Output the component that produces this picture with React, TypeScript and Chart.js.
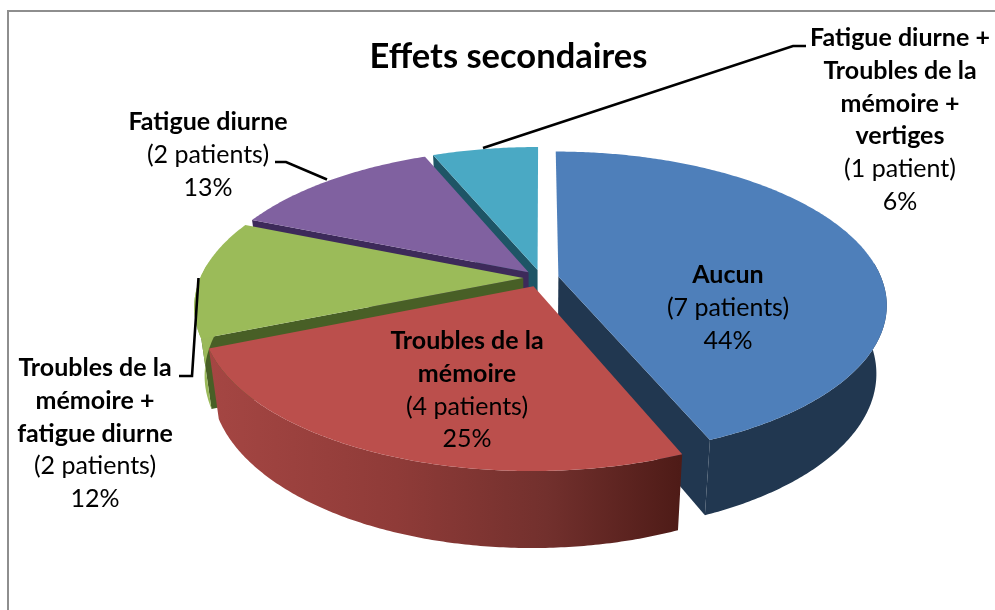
import React, { useEffect, useRef } from "react";
import { Chart, registerables } from "chart.js";

Chart.register(...registerables);

const categories = [
  "Aucun",
  "Troubles de la mémoire",
  "Troubles de la mémoire + fatigue diurne",
  "Fatigue diurne",
  "Fatigue diurne + Troubles de la mémoire + vertiges",
];
const patients = [7, 4, 2, 2, 1];
const percentLabels = ["44%", "25%", "12%", "13%", "6%"];
const titleLines = [
  ["Aucun"],
  ["Troubles de la", "mémoire"],
  ["Troubles de la", "mémoire +", "fatigue diurne"],
  ["Fatigue diurne"],
  ["Fatigue diurne +", "Troubles de la", "mémoire +", "vertiges"],
];
const topColors = ["#4e7fba", "#bb4f4c", "#9bbb59", "#8061a0", "#4aa9c4"];
const cutColors = ["#213750", "#581c17", "#485f26", "#3d2a5a", "#1e5566"];
const wallColors = ["#213750", "", "#9ab95a", "#3d2a5a", "#1e5566"];

const VIEW = { cx: 541, cy: 278, a: 323, b: 148, p: 0.181, depth: 69, shrink: 0.97 };
const DRAW_ORDER = [4, 3, 2, 0, 1];
const LABEL_POS = [
  { x: 728, y: 275 },
  { x: 467, y: 341 },
  { x: 95, y: 368 },
  { x: 208, y: 122 },
  { x: 900, y: 38 },
];
const LINE_H = 32.8;
const LEADERS = [
  [[275, 162], [286, 162], [327, 179.5]],
  [[483, 148], [793, 46], [806, 46]],
  [[198.5, 278], [192, 376], [179, 376]],
];

function project(u: number, v: number, bottom: boolean): [number, number] {
  const s = 1 / (1 - VIEW.p * v);
  const x = VIEW.a * u * s;
  const y = VIEW.b * v * s;
  if (!bottom) return [VIEW.cx + x, VIEW.cy + y];
  const k = VIEW.shrink;
  return [VIEW.cx + x * k, VIEW.cy + y * k + VIEW.depth * s * k];
}

function rimAngles(start: number, end: number) {
  const ts: number[] = [];
  const n = Math.max(8, Math.ceil((end - start) / 0.01));
  for (let i = 0; i <= n; i++) ts.push(start + ((end - start) * i) / n);
  return ts;
}

function poly(ctx: CanvasRenderingContext2D, pts: [number, number][], fill: any) {
  ctx.beginPath();
  pts.forEach((p, i) => (i ? ctx.lineTo(p[0], p[1]) : ctx.moveTo(p[0], p[1])));
  ctx.closePath();
  ctx.fillStyle = fill;
  ctx.fill();
}

const pie3d = {
  id: "pie3d",
  beforeDraw(chart: any) {
    const ctx = chart.ctx;
    ctx.save();
    ctx.strokeStyle = "#8e8e8e";
    ctx.lineWidth = 2;
    ctx.strokeRect(8, 11, 1200, 1200);
    ctx.restore();
  },
  beforeDatasetDraw(chart: any) {
    const ctx: CanvasRenderingContext2D = chart.ctx;
    const arcs = chart.getDatasetMeta(0).data;
    ctx.save();
    for (const i of DRAW_ORDER) {
      const arc = arcs[i];
      const mid = (arc.startAngle + arc.endAngle) / 2;
      const e = arc.options.offset / 100;
      const ox = e * Math.cos(mid);
      const oy = e * Math.sin(mid);
      const angles = rimAngles(arc.startAngle, arc.endAngle);
      const at = (t: number, b: boolean) => project(ox + Math.cos(t), oy + Math.sin(t), b);
      const topRim = angles.map((t) => at(t, false));
      const apexTop = project(ox, oy, false);
      const apexBot = project(ox, oy, true);
      if (-Math.cos(arc.startAngle) > 1e-6) {
        poly(ctx, [apexTop, at(arc.startAngle, false), at(arc.startAngle, true), apexBot], cutColors[i]);
      }
      if (Math.cos(arc.endAngle) > 1e-6) {
        poly(ctx, [apexTop, at(arc.endAngle, false), at(arc.endAngle, true), apexBot], cutColors[i]);
      }
      const front = angles.filter((t) => Math.sin(t) > -0.1);
      if (front.length > 1) {
        let wall: any = wallColors[i];
        if (!wall) {
          const g = ctx.createLinearGradient(207, 0, 680, 0);
          g.addColorStop(0, "#a54643");
          g.addColorStop(0.4, "#8f3b38");
          g.addColorStop(0.72, "#72302d");
          g.addColorStop(1, "#4e1b17");
          wall = g;
        }
        poly(ctx, [...front.map((t) => at(t, false)), ...front.slice().reverse().map((t) => at(t, true))], wall);
      }
      poly(ctx, [apexTop, ...topRim], topColors[i]);
    }
    ctx.restore();
    return false;
  },
  afterDatasetsDraw(chart: any) {
    const ctx: CanvasRenderingContext2D = chart.ctx;
    ctx.save();
    ctx.strokeStyle = "#000";
    ctx.lineWidth = 2.6;
    for (const l of LEADERS) {
      ctx.beginPath();
      l.forEach((p, i) => (i ? ctx.lineTo(p[0], p[1]) : ctx.moveTo(p[0], p[1])));
      ctx.stroke();
    }
    ctx.textAlign = "center";
    ctx.textBaseline = "middle";
    ctx.fillStyle = "#000";
    categories.forEach((_, i) => {
      const pos = LABEL_POS[i];
      let y = pos.y;
      ctx.font = "bold 25px Lato";
      for (const line of titleLines[i]) {
        ctx.fillText(line, pos.x, y);
        y += LINE_H;
      }
      ctx.font = "25px Lato";
      const v = patients[i];
      ctx.fillText(`(${v} patient${v > 1 ? "s" : ""})`, pos.x, y);
      y += LINE_H;
      ctx.fillText(percentLabels[i], pos.x, y);
    });
    ctx.restore();
  },
};

export default function App() {
  const ref = useRef<HTMLCanvasElement>(null);
  useEffect(() => {
    const chart = new Chart(ref.current as HTMLCanvasElement, {
      type: "pie",
      data: {
        labels: categories,
        datasets: [{ data: patients, backgroundColor: topColors, borderWidth: 0, offset: [5.5, 6, 5.5, 5.5, 5.5] }],
      },
      options: {
        responsive: false,
        animation: false,
        layout: { padding: { left: 22 } },
        plugins: {
          legend: { display: false },
          tooltip: { enabled: false },
          title: {
            display: true,
            text: "Effets secondaires",
            color: "#000",
            font: { family: "Lato", size: 34.5, weight: "bold" },
            padding: { top: 36, bottom: 0 },
          },
        },
      },
      plugins: [pie3d],
    } as any);
    return () => chart.destroy();
  }, []);
  return (
    <canvas
      ref={ref}
      width={995}
      height={610}
      style={{ position: "fixed", left: 0, top: 0, width: 995, height: 610, background: "#fff" }}
    />
  );
}
